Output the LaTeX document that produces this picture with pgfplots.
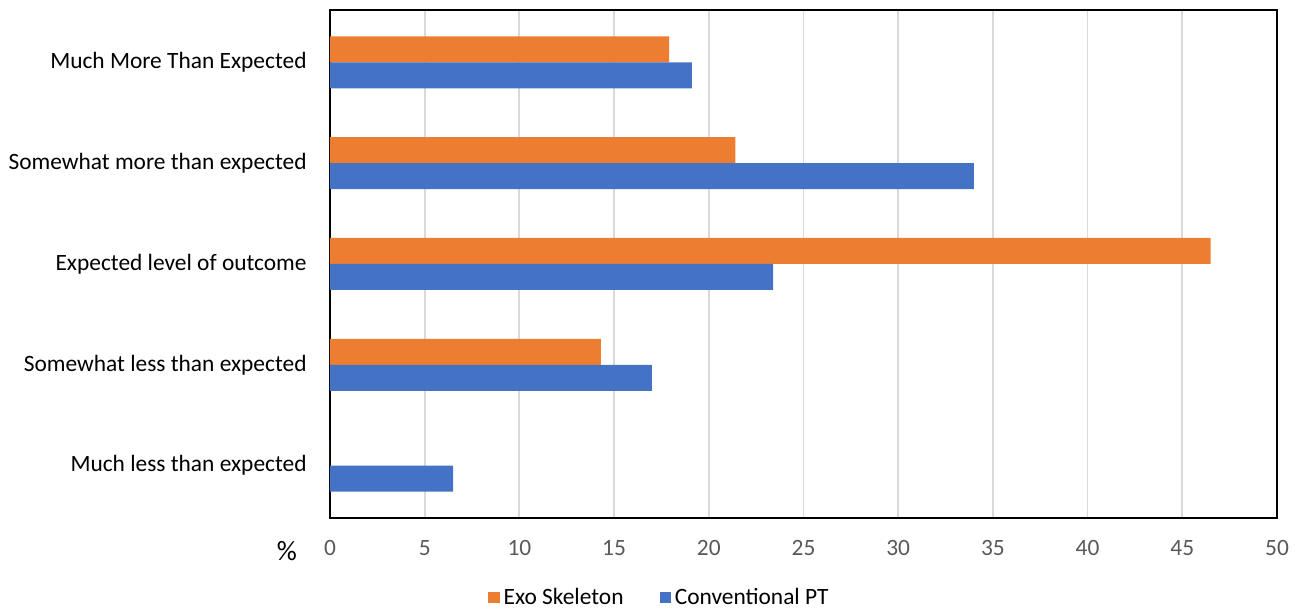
\documentclass[border=0pt]{standalone}
\usepackage{pgfplots}
\pgfplotsset{compat=1.18}
\usepackage{fontspec}
\setmainfont{Carlito}
\definecolor{exo}{HTML}{ED7D31}
\definecolor{conv}{HTML}{4472C4}
\definecolor{tickgrey}{HTML}{595959}
\definecolor{gridgrey}{HTML}{D9D9D9}

\begin{document}
\begin{tikzpicture}
\begin{axis}[
    scale only axis,
    width=473.5pt, height=254pt,
    xbar, bar width=13pt,
    xmin=0, xmax=50, xtick={0,5,...,50},
    ymin=-0.52, ymax=4.52,
    ytick={0,1,2,3,4},
    yticklabels={Much less than expected, Somewhat less than expected, Expected level of outcome, Somewhat more than expected, Much More Than Expected},
    major tick length=0pt,
    xmajorgrids, grid style={gridgrey, line width=0.9pt},
    axis line style={black, line width=1pt},
    font=\fontsize{11.7}{13.5}\selectfont,
    /pgf/number format/assume math mode=true,
    xticklabel style={tickgrey, inner sep=0pt, yshift=-11pt},
    yticklabel style={black, inner sep=0pt, xshift=-11.5pt},
    legend columns=2,
    legend style={draw=none, at={(axis description cs:0.349,-0.157)}, anchor=center,
                  /tikz/every even column/.append style={column sep=16pt},
                  /tikz/every odd column/.append style={inner xsep=1pt}},
    legend image code/.code={\fill[#1] (0pt,-2.8pt) rectangle (5.6pt,2.8pt);},
]
\addplot[fill=exo, draw=none, bar shift=6.5pt] coordinates {
    (0,0) (14.3,1) (46.5,2) (21.4,3) (17.9,4)
};
\addlegendentry{Exo Skeleton}
\addplot[fill=conv, draw=none, bar shift=-6.5pt] coordinates {
    (6.5,0) (17.0,1) (23.4,2) (34.0,3) (19.1,4)
};
\addlegendentry{Conventional PT}
\coordinate (ll) at (rel axis cs:0,0);
\end{axis}
\node[font=\fontsize{14}{16}\selectfont] at ([xshift=-21.5pt,yshift=-16.5pt]ll) {\%};
\pgfresetboundingbox
\path (ll) ++(-165pt,-47pt) rectangle ++(650.5pt,306pt);
\end{tikzpicture}
\end{document}
